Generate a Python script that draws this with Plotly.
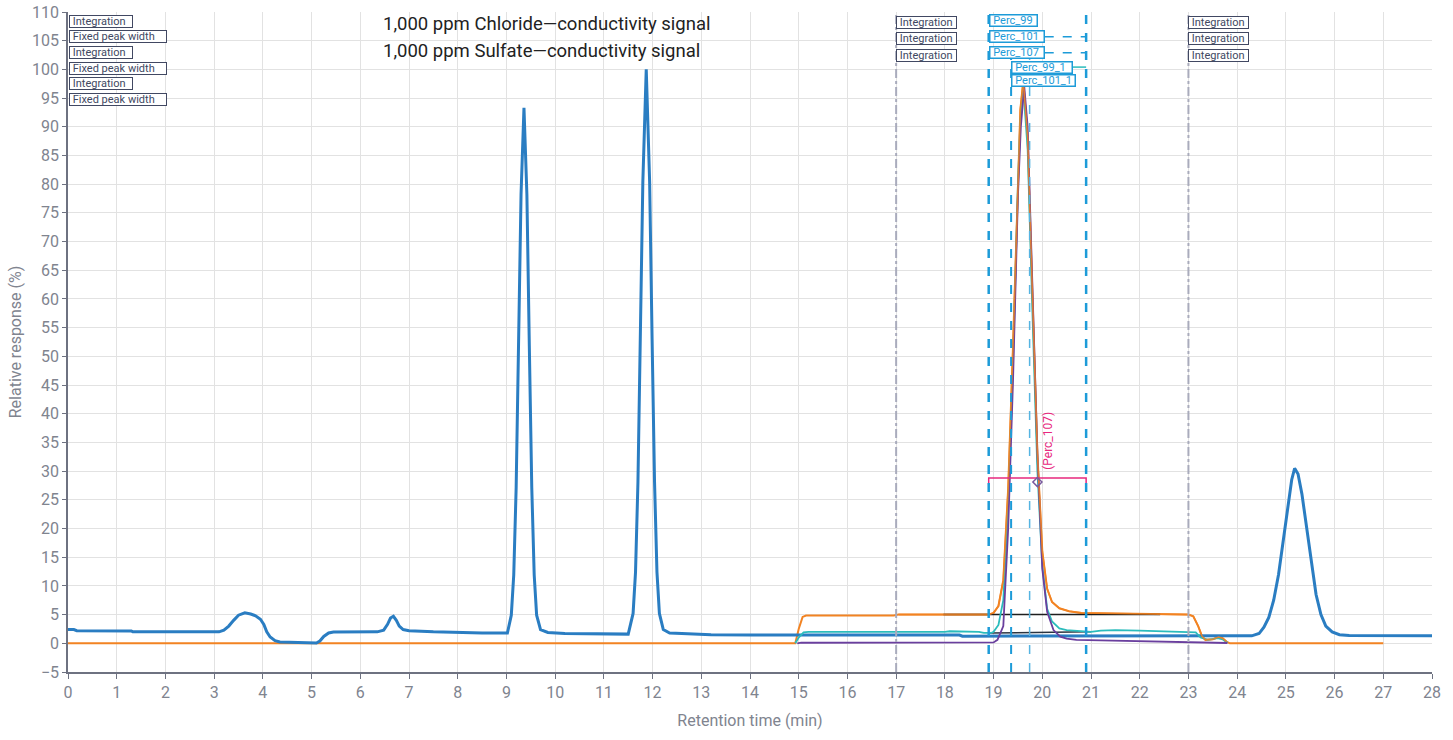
import plotly.graph_objects as go

# ---------------- data ----------------
# Main (chloride) conductivity trace
blue_x = [0, 0.12, 0.18, 1.3, 1.33, 3.1, 3.2, 3.3, 3.4, 3.5, 3.63, 3.75, 3.85, 3.95, 4.02, 4.08, 4.15, 4.25, 4.35, 4.58,
          4.62, 5.1, 5.17, 5.25, 5.35, 5.45, 6.35, 6.48, 6.56, 6.62, 6.68, 6.74, 6.8, 6.88, 7.0, 7.5, 8.5, 9.02,
          9.1, 9.15, 9.2, 9.25, 9.3, 9.36, 9.42, 9.47, 9.52, 9.57, 9.62, 9.7, 9.85, 10.2, 11.0, 11.5,
          11.6, 11.65, 11.7, 11.75, 11.8, 11.87, 11.94, 11.99, 12.04, 12.09, 12.14, 12.22, 12.35, 12.6, 13.2, 14.0,
          15.0, 18.3, 18.36, 24.3, 24.45, 24.55, 24.65, 24.75, 24.85, 24.95, 25.05, 25.12, 25.18, 25.25, 25.33,
          25.42, 25.52, 25.62, 25.72, 25.82, 25.95, 26.1, 26.3, 27.0, 28.0]
blue_y = [2.4, 2.4, 2.2, 2.15, 2.0, 2.0, 2.3, 3.0, 4.0, 4.9, 5.3, 5.1, 4.8, 4.2, 3.3, 2.0, 1.1, 0.45, 0.22, 0.17,
          0.05, 0.05, 0.4, 1.2, 1.8, 1.95, 2.0, 2.3, 3.3, 4.4, 4.7, 4.0, 3.0, 2.4, 2.2, 2.0, 1.8, 1.8,
          4.9, 11.9, 27.2, 51.8, 78.2, 93.3, 78.2, 51.8, 27.2, 11.9, 4.9, 2.4, 1.9, 1.7, 1.6, 1.6,
          5.2, 12.4, 28.2, 53.1, 80.3, 100.0, 80.3, 53.1, 28.2, 12.4, 5.2, 2.4, 1.8, 1.7, 1.5, 1.45,
          1.45, 1.45, 1.25, 1.3, 1.7, 2.8, 4.5, 7.5, 12.0, 18.0, 24.5, 28.5, 30.5, 29.5, 26.0,
          20.5, 14.0, 8.5, 5.0, 3.0, 2.0, 1.5, 1.35, 1.3, 1.3]

# Orange overlay trace
orange_x = [0, 14.93, 15.0, 15.08, 15.15, 16.95, 17.05, 18.9, 19.0, 19.1, 19.2, 19.3, 19.4, 19.5, 19.55, 19.61,
            19.7, 19.8, 19.9, 20.0, 20.1, 20.2, 20.35, 20.55, 20.8, 21.5, 22.5, 23.0, 23.1, 23.2, 23.28, 23.35,
            23.5, 23.62, 23.7, 23.78, 23.85, 27.0]
orange_y = [0, 0, 2.5, 4.6, 4.85, 4.85, 5.0, 5.0, 5.3, 6.5, 11.0, 27.0, 52.0, 82.0, 93.0, 98.0,
            88.0, 60.0, 33.0, 16.0, 9.5, 7.2, 6.1, 5.6, 5.3, 5.2, 5.1, 5.0, 4.7, 3.0, 1.2, 0.6,
            0.7, 1.1, 0.9, 0.3, 0.0, 0.0]

# Teal overlay trace
teal_x = [14.93, 15.0, 15.1, 15.2, 18.0, 18.1, 18.7, 18.8, 18.95, 19.0, 19.1, 19.2, 19.3, 19.4, 19.5, 19.55, 19.61,
          19.7, 19.8, 19.9, 20.0, 20.1, 20.2, 20.35, 20.5, 20.8, 21.0, 21.2, 21.5, 22.0, 22.5, 23.0, 23.15,
          23.25, 23.4, 23.6, 23.7, 23.8]
teal_y = [0, 1.0, 1.9, 2.0, 2.0, 2.1, 2.0, 1.8, 1.8, 2.0, 3.2, 7.5, 24.0, 49.0, 80.0, 91.0, 97.0,
          86.0, 57.0, 30.0, 13.5, 6.0, 3.8, 2.6, 2.3, 2.05, 2.0, 2.2, 2.3, 2.2, 2.1, 2.0, 1.9,
          1.0, 0.6, 0.9, 0.7, 0.1]

# Purple overlay trace
purple_x = [14.97, 15.05, 19.0, 19.08, 19.2, 19.3, 19.4, 19.5, 19.56, 19.63, 19.7, 19.8, 19.9, 20.0, 20.1, 20.23,
            20.37, 20.5, 20.7, 21.2, 22.1, 23.2, 23.8]
purple_y = [0.0, 0.1, 0.15, 0.6, 3.0, 20.0, 46.0, 78.0, 90.0, 97.0, 90.0, 62.0, 33.0, 13.0, 5.5, 2.3,
            1.15, 0.8, 0.6, 0.5, 0.3, 0.15, 0.05]

# Baseline segments
base1_x = [17.97, 22.42]
base1_y = [5.0, 5.0]
base2_x = [18.9, 21.0]
base2_y = [1.8, 2.0]

# Width bracket (Perc_107)
bracket_x = [18.9, 18.9, 20.9, 20.9]
bracket_y = [27.6, 28.8, 28.8, 27.6]
marker_x = [19.9]
marker_y = [28.1]

# Vertical lines
int_lines = [17, 23]
perc_lines = [18.9, 19.36, 19.74, 20.9]

legend_texts = ["1,000 ppm Chloride\u2014conductivity signal", "1,000 ppm Sulfate\u2014conductivity signal"]
left_labels = ["Integration", "Fixed peak width", "Integration", "Fixed peak width", "Integration", "Fixed peak width"]
left_label_y = [108.4, 105.7, 102.9, 100.2, 97.5, 94.8]
int_label_y = [108.1, 105.3, 102.5]
perc_labels = ["Perc_99", "Perc_101", "Perc_107", "Perc_99_1", "Perc_101_1"]
perc_label_x = [18.9, 18.9, 18.9, 19.36, 19.36]
perc_label_y = [108.5, 105.7, 102.9, 100.4, 98.0]

BLUE = "#2a7dc2"
ORANGE = "#f28322"
TEAL = "#2bbcbc"
PURPLE = "#6a3f9e"
MAGENTA = "#e8287e"
PERC = "#1d9bd8"
DARK = "#414862"
GREY = "#80848f"
FONT = "Roboto"

fig = go.Figure()

fig.add_trace(go.Scatter(x=orange_x, y=orange_y, mode="lines", line=dict(color=ORANGE, width=2), hoverinfo="skip"))
fig.add_trace(go.Scatter(x=base1_x, y=base1_y, mode="lines", line=dict(color="#1e1e1e", width=1.5), hoverinfo="skip"))
fig.add_trace(go.Scatter(x=blue_x, y=blue_y, mode="lines", line=dict(color=BLUE, width=3), hoverinfo="skip"))
fig.add_trace(go.Scatter(x=base2_x, y=base2_y, mode="lines", line=dict(color="#2a3440", width=1.5), hoverinfo="skip"))
fig.add_trace(go.Scatter(x=teal_x, y=teal_y, mode="lines", line=dict(color=TEAL, width=1.8), hoverinfo="skip"))
fig.add_trace(go.Scatter(x=purple_x, y=purple_y, mode="lines", line=dict(color=PURPLE, width=1.8), hoverinfo="skip"))
fig.add_trace(go.Scatter(x=orange_x[6:36], y=orange_y[6:36], mode="lines", line=dict(color=ORANGE, width=1.6),
                         opacity=0.85, hoverinfo="skip"))
fig.add_trace(go.Scatter(x=bracket_x, y=bracket_y, mode="lines", line=dict(color=MAGENTA, width=1.5), hoverinfo="skip"))
fig.add_trace(go.Scatter(x=marker_x, y=marker_y, mode="markers",
                         marker=dict(symbol="diamond-open", size=7, color="#7a5a9e", line=dict(width=1.5)),
                         hoverinfo="skip"))

shapes = []
for xv in int_lines:
    shapes.append(dict(type="line", xref="x", yref="paper", x0=xv, x1=xv, y0=0, y1=1,
                       line=dict(color="#a9abbc", width=2, dash="dashdot")))
for i, xv in enumerate(perc_lines):
    w = 2.5 if i in (0, 3) else (2 if i == 1 else 1.5)
    c = PERC if i != 2 else "#55b4e2"
    shapes.append(dict(type="line", xref="x", yref="paper", x0=xv, x1=xv, y0=0, y1=1,
                       line=dict(color=c, width=w, dash="dash")))
# dashed connectors from labels to the right limit
for yv in perc_label_y[1:3]:
    shapes.append(dict(type="line", xref="x", yref="y", x0=20.05, x1=20.9, y0=yv, y1=yv,
                       line=dict(color=PERC, width=1.5, dash="dash")))
shapes.append(dict(type="line", xref="x", yref="y", x0=20.6, x1=20.9, y0=perc_label_y[3], y1=perc_label_y[3],
                   line=dict(color=TEAL, width=1.5)))

# label box widths (px)
box_w = {"Integration": 62, "Fixed peak width": 96, "Perc_99": 46, "Perc_101": 53, "Perc_107": 53,
         "Perc_99_1": 59, "Perc_101_1": 62}
NB = "\u00a0"

annotations = []
for i, t in enumerate(legend_texts):
    annotations.append(dict(text=t, xref="paper", yref="paper", x=0.2295, y=[0.982, 0.941][i],
                            xanchor="left", yanchor="middle", showarrow=False,
                            font=dict(family=FONT, size=18.5, color="#222222")))
box_font = dict(family=FONT, size=11, color=DARK)
for t, yv in zip(left_labels, left_label_y):
    annotations.append(dict(text=NB + t, x=0.03, y=yv, xref="x", yref="y", xanchor="left", yanchor="middle",
                            showarrow=False, font=box_font, bgcolor="white", bordercolor=DARK, align="left",
                            borderwidth=1, borderpad=0, width=box_w[t], height=11))
for xv in int_lines:
    for yv in int_label_y:
        annotations.append(dict(text=NB + "Integration", x=xv, y=yv, xref="x", yref="y", xanchor="left",
                                yanchor="middle", showarrow=False, font=box_font, bgcolor="white", align="left",
                                bordercolor=DARK, borderwidth=1, borderpad=0, width=59, height=11))
for t, xv, yv in zip(perc_labels, perc_label_x, perc_label_y):
    annotations.append(dict(text=NB + t, x=xv, y=yv, xref="x", yref="y", xanchor="left", yanchor="middle",
                            showarrow=False, font=dict(family=FONT, size=11, color=PERC), bgcolor="white",
                            align="left", bordercolor=PERC, borderwidth=1.5, borderpad=0,
                            width=box_w[t], height=10))
annotations.append(dict(text="(Perc_107)", x=20.12, y=29.9, xref="x", yref="y", xanchor="center",
                        yanchor="bottom", textangle=-90, showarrow=False,
                        font=dict(family=FONT, size=12, color=MAGENTA)))

fig.update_layout(
    width=1453, height=740,
    margin=dict(l=68, r=21, t=12, b=68, autoexpand=False),
    plot_bgcolor="white", paper_bgcolor="white",
    showlegend=False,
    font=dict(family=FONT, color=GREY),
    shapes=shapes, annotations=annotations,
    xaxis=dict(range=[0, 28], dtick=1, tick0=0, showgrid=True, gridcolor="#e2e2e2", gridwidth=1,
               zeroline=False, showline=True, linecolor="#6e7281", linewidth=1.5, ticks="outside",
               ticklen=5, tickcolor="#6e7281", tickfont=dict(size=16, color=GREY, family=FONT),
               automargin=False,
               title=dict(text="Retention time (min)", font=dict(size=16, color=GREY, family=FONT), standoff=14)),
    yaxis=dict(range=[-5, 110], dtick=5, tick0=0, showgrid=True, gridcolor="#e2e2e2", gridwidth=1,
               zeroline=False, showline=True, linecolor="#6e7281", linewidth=1.5, ticks="outside",
               ticklen=4, tickcolor="#6e7281", tickfont=dict(size=16, color=GREY, family=FONT),
               automargin=False,
               title=dict(text="Relative response (%)", font=dict(size=16, color=GREY, family=FONT), standoff=6)),
)

fig.write_html("out.html")
